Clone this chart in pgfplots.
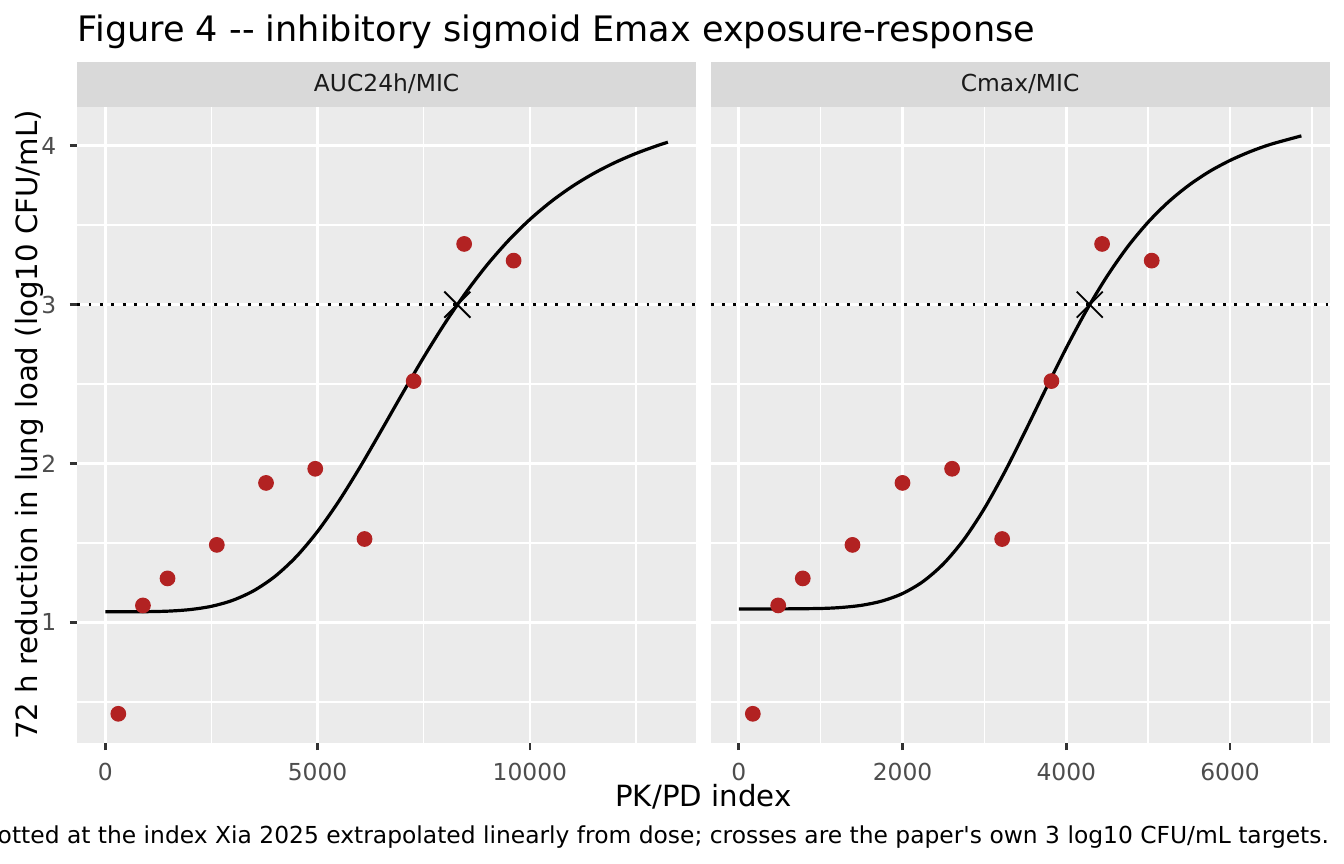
\documentclass[border=0pt]{standalone}
\usepackage{fontspec}
\setmainfont{DejaVu Sans}
\newfontfamily\ggf{DejaVu Sans}
\usepackage{pgfplots}
\pgfplotsset{compat=1.18}
\definecolor{gray92}{HTML}{EBEBEB}
\definecolor{gray85}{HTML}{D9D9D9}
\definecolor{gray30}{HTML}{4D4D4D}
\definecolor{gray20}{HTML}{333333}
\definecolor{gray10}{HTML}{1A1A1A}
\definecolor{firebrick}{HTML}{B22222}

\pgfplotstableread{
x y
306 0.425
886 1.107
1465 1.277
2626 1.488
3785 1.878
4944 1.967
6105 1.525
7262 2.519
8451 3.382
9616 3.277
}\ptsA
\pgfplotstableread{
x y
171 0.425
481 1.107
781 1.277
1388 1.488
1999 1.878
2605 1.967
3216 1.525
3818 2.519
4437 3.382
5043 3.277
}\ptsB
\pgfplotstableread{
x y
0 1.0670
500 1.0670
1000 1.0678
1500 1.0713
2000 1.0810
2500 1.1016
3000 1.1392
3500 1.2003
4000 1.2907
4500 1.4146
5000 1.5733
5500 1.7634
6000 1.9782
6500 2.2081
7000 2.4418
7500 2.6697
8000 2.8836
8500 3.0788
9000 3.2529
9500 3.4050
10000 3.5364
10500 3.6489
11000 3.7446
11500 3.8255
12000 3.8940
12500 3.9518
13000 4.0007
13249 4.0223
}\fitA
\pgfplotstableread{
x y
0 1.0850
500 1.0851
1000 1.0879
1250 1.0941
1500 1.1079
1750 1.1349
2000 1.1820
2250 1.2576
2500 1.3693
2750 1.5224
3000 1.7179
3250 1.9493
3500 2.2050
3750 2.4697
4000 2.7278
4250 2.9677
4500 3.1807
4750 3.3647
5000 3.5195
5250 3.6477
5500 3.7527
5750 3.8384
6000 3.9076
6250 3.9638
6500 4.0096
6871 4.0621
}\fitB

\pgfplotsset{
  ggpanel/.style={
    scale only axis,
    width=232.05bp, height=238.39bp,
    anchor=south west,
    ymin=0.2431, ymax=4.2440,
    axis background/.style={fill=gray92},
    axis line style={draw=none},
    grid=both,
    major grid style={white, line width=1.07bp},
    minor grid style={white, line width=0.53bp},
    minor tick length=0pt,
    major tick length=2.74bp,
    tick align=outside,
    xtick pos=bottom, ytick pos=left,
    major tick style={gray20, line width=1.07bp},
    ytick={1,2,3,4},
    minor ytick={0.5,1.5,2.5,3.5},
    scaled x ticks=false, scaled y ticks=false,
    /pgf/number format/assume math mode=true,
    every tick label/.append style={font=\ggf\fontsize{8.8}{10}\selectfont, text=gray30, inner sep=0pt},
    xticklabel style={anchor=base, yshift=-11.36bp},
    yticklabel style={anchor=east, xshift=-4.95bp},
  }
}

\begin{document}
\begin{tikzpicture}
\useasboundingbox (0,0) rectangle (504bp,324bp);
\fill[white] (0,0) rectangle (504bp,324bp);

% left panel
\begin{axis}[ggpanel, at={(28.95bp,45.4875bp)},
  xmin=-662.45, xmax=13911.45,
  xtick={0,5000,10000}, xticklabels={0,5000,10000},
  minor xtick={2500,7500,12500},
  yticklabels={1,2,3,4}]
\addplot[black, line width=1.2bp, smooth] table[x=x,y=y] {\fitA};
\addplot[only marks, mark=*, mark size=2.75bp, color=firebrick, mark options={draw=none, fill=firebrick}] table[x=x,y=y] {\ptsA};
\addplot[black, line width=1.07bp, dash pattern=on 1.07bp off 3.2bp] coordinates {(-662.45,3) (13911.45,3)};
\addplot[only marks, mark=x, mark size=6.9bp, color=black, mark options={line width=0.7bp}] coordinates {(8291,3)};
\end{axis}

% right panel
\begin{axis}[ggpanel, at={(266.5125bp,45.4875bp)},
  xmin=-343.55, xmax=7214.55,
  xtick={0,2000,4000,6000}, xticklabels={0,2000,4000,6000},
  minor xtick={1000,3000,5000,7000},
  yticklabels={}, ytick style={draw=none}]
\addplot[black, line width=1.2bp, smooth] table[x=x,y=y] {\fitB};
\addplot[only marks, mark=*, mark size=2.75bp, color=firebrick, mark options={draw=none, fill=firebrick}] table[x=x,y=y] {\ptsB};
\addplot[black, line width=1.07bp, dash pattern=on 1.07bp off 3.2bp] coordinates {(-343.55,3) (7214.55,3)};
\addplot[only marks, mark=x, mark size=6.9bp, color=black, mark options={line width=0.7bp}] coordinates {(4286,3)};
\end{axis}

% strips
\fill[gray85] (28.95bp,283.875bp) rectangle (261.0bp,300.64bp);
\fill[gray85] (266.5125bp,283.875bp) rectangle (498.5625bp,300.64bp);
\node[anchor=base, inner sep=0pt, text=gray10, font=\ggf\fontsize{8.8}{10}\selectfont] at (144.98bp,289.5bp) {AUC24h/MIC};
\node[anchor=base, inner sep=0pt, text=gray10, font=\ggf\fontsize{8.8}{10}\selectfont] at (382.54bp,289.5bp) {Cmax/MIC};

% title
\node[anchor=base west, inner sep=0pt, font=\ggf\fontsize{13.2}{15}\selectfont] at (28.95bp,308.6bp) {Figure 4 -- inhibitory sigmoid Emax exposure-response};

% axis titles
\node[anchor=base, inner sep=0pt, font=\ggf\fontsize{11}{13}\selectfont] at (263.76bp,21.4bp) {PK/PD index};
\node[anchor=base, rotate=90, inner sep=0pt, font=\ggf\fontsize{11}{13}\selectfont] at (13.9bp,164.6bp) {72 h reduction in lung load (log10 CFU/mL)};

% caption
\node[anchor=base east, inner sep=0pt, font=\ggf\fontsize{8.8}{10}\selectfont] at (498.56bp,7.69bp) {Points are plotted at the index Xia 2025 extrapolated linearly from dose; crosses are the paper's own 3 log10 CFU/mL targets.};
\end{tikzpicture}
\end{document}
